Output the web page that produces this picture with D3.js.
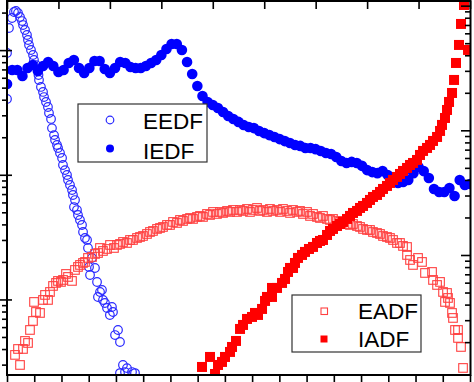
<!DOCTYPE html>
<html><head><meta charset="utf-8">
<script src="https://cdn.jsdelivr.net/npm/d3@7"></script>
<style>html,body{margin:0;padding:0;background:#fff;} svg{display:block;}</style>
</head><body><svg id="chart" width="474" height="382"></svg>
<script>
// ---- Data (top axis: energy; left axis: EDF; bottom axis: angle; right axis: ADF) ----
const eedfEnergy = [0,0,0.19,0.49,0.68,0.87,1.07,1.26,1.46,1.56,1.75,1.94,2.04,2.14,2.33,2.53,2.62,2.82,3.01,3.06,3.11,3.30,3.50,3.60,3.79,3.98,4.08,4.28,4.37,4.57,4.67,4.86,4.96,5.15,5.35,5.44,5.64,5.83,5.93,6.12,6.32,6.41,6.61,6.51,6.80,6.90,7.09,7.29,7.39,7.58,7.78,7.87,8.26,7.97,8.55,8.07,8.75,9.04,9.23,8.84,9.33,9.52,9.72,10.2,10.3,10.0,10.79,10.5,10.98,11.27,11.66,11.47,12.15,12.44,10.98];
const eedfValue = [0.409,0.957,1.518,1.826,2.04,2.078,2.002,1.86,1.727,1.604,1.463,1.334,1.216,1.109,1.011,0.922,0.841,0.766,0.699,0.637,0.581,0.511,0.466,0.424,0.387,0.353,0.316,0.283,0.239,0.210,0.192,0.175,0.1655,0.151,0.1376,0.1209,0.110,0.1005,0.0917,0.0836,0.0762,0.0695,0.0633,0.0556,0.0526,0.0480,0.0438,0.0399,0.0351,0.0314,0.0303,0.0261,0.0217,0.0184,0.01804,0.01585,0.01393,0.01158,0.01202,0.01056,0.00999,0.00945,0.00862,0.00878,0.0080,0.00757,0.00574,0.00523,0.0046,0.00301,0.00284,0.00264,0.00264,0.00259,0.00259];

const iedfEnergy = [0,0.5,1,1.5,2,2.5,3,3.5,4,4.5,5,5.5,6,6.5,7,7.5,8,8.5,9,9.5,10,10.5,11,11.5,12,12.5,13,13.5,14,14.5,15,15.5,16,16.5,17,17.5,18,18.5,19,19.5,20,20.5,21,21.5,22,22.5,23,23.5,24,24.5,25,25.5,26,26.5,27,27.5,28,28.5,29,29.5,30,30.5,31,31.5,32,32.5,33,33.5,34,34.5,35,35.5,36,36.5,37,37.5,38,38.5,39,39.5,40,40.5,41,41.5,42,42.5,43,43.5,44,44.5,45];
const iedfValue = [0.540,0.699,0.699,0.626,0.725,0.766,0.686,0.752,0.810,0.752,
 0.673,0.699,0.795,0.841,0.725,0.661,0.725,0.825,0.825,0.712,
 0.661,0.725,0.810,0.795,0.739,0.725,0.725,0.752,0.795,0.841,
 0.922,1.03,1.13,1.13,1.01,0.810,0.649,0.520,0.432,0.387,
 0.366,0.346,0.322,0.299,0.283,0.268,0.253,0.244,0.239,0.2265,
 0.218,0.210,0.203,0.195,0.188,0.1815,0.175,0.172,0.1655,0.1655,
 0.162,0.1565,0.151,0.148,0.140,0.130,0.1255,0.128,0.1255,0.119,
 0.110,0.106,0.104,0.108,0.1005,0.0934,0.0867,0.0883,0.0917,0.104,
 0.1165,0.108,0.0951,0.0776,0.0734,0.0734,0.0790,0.0682,0.0917,0.0836,
 0.0851];

const eadfAngle = [1.47,2.02,2.39,2.94,3.30,3.86,4.22,4.77,4.96,5.32,6.06,6.61,6.98,7.53,7.89,8.45,9.00,9.36,9.91,10.28,10.83,11.20,11.93,12.48,13.03,13.40,13.95,14.32,14.87,15.61,16.16,16.71,17.07,17.62,18.36,18.91,19.64,20.19,20.75,21.30,22.03,22.58,23.13,23.87,24.42,24.97,25.70,26.25,26.80,27.54,28.09,28.64,29.37,29.93,30.48,31.21,31.76,32.31,33.05,33.60,34.15,34.88,35.43,35.98,36.72,37.27,37.82,38.55,39.10,39.66,40.39,40.94,41.49,42.23,42.78,43.33,44.06,44.61,45.16,45.90,46.45,47.00,47.73,48.28,48.84,49.57,50.12,50.67,51.41,51.96,52.51,53.24,53.79,54.34,55.08,55.63,56.18,56.91,57.46,58.01,58.75,59.30,59.85,60.58,61.14,61.69,62.42,62.97,63.52,64.26,64.81,65.36,66.09,66.64,67.19,67.93,68.48,69.03,69.76,70.31,70.87,71.60,72.15,72.70,73.44,73.44,73.99,74.54,75.46,76.19,76.74,78.03,78.21,78.95,79.50,80.05,80.41,80.78,80.96,81.33,81.70,81.88,82.25,82.80,82.80,83.35,83.72];
const eadfValue = [1.594e-3,1.779e-3,1.324e-3,1.779e-3,2.063e-3,1.988e-3,2.527e-3,2.985e-3,4.240e-3,3.524e-3,
 3.460e-3,4.400e-3,4.826e-3,4.400e-3,5.099e-3,5.698e-3,6.023e-3,6.250e-3,6.136e-3,6.365e-3,
 7.111e-3,6.728e-3,6.250e-3,7.656e-3,8.093e-3,8.397e-3,8.713e-3,8.875e-3,9.557e-3,9.734e-3,
 1.029e-2,1.047e-2,1.149e-2,1.087e-2,1.128e-2,1.215e-2,1.149e-2,1.215e-2,1.238e-2,1.284e-2,
 1.260e-2,1.332e-2,1.332e-2,1.382e-2,1.408e-2,1.434e-2,1.488e-2,1.544e-2,1.573e-2,1.633e-2,
 1.663e-2,1.694e-2,1.758e-2,1.758e-2,1.858e-2,1.824e-2,1.928e-2,1.892e-2,1.964e-2,2.000e-2,
 1.964e-2,2.038e-2,2.076e-2,2.038e-2,2.154e-2,2.114e-2,2.235e-2,2.154e-2,2.235e-2,2.194e-2,
 2.277e-2,2.235e-2,2.319e-2,2.235e-2,2.319e-2,2.277e-2,2.362e-2,2.235e-2,2.319e-2,2.406e-2,
 2.277e-2,2.319e-2,2.235e-2,2.362e-2,2.277e-2,2.319e-2,2.235e-2,2.362e-2,2.277e-2,2.194e-2,
 2.319e-2,2.235e-2,2.277e-2,2.154e-2,2.235e-2,2.076e-2,2.154e-2,2.038e-2,2.000e-2,2.076e-2,
 1.964e-2,1.928e-2,1.964e-2,1.892e-2,1.858e-2,1.892e-2,1.789e-2,1.758e-2,1.789e-2,1.725e-2,
 1.694e-2,1.633e-2,1.603e-2,1.603e-2,1.544e-2,1.516e-2,1.488e-2,1.434e-2,1.408e-2,1.382e-2,
 1.332e-2,1.260e-2,1.260e-2,1.193e-2,1.170e-2,1.010e-2,9.209e-3,8.397e-3,9.557e-3,8.875e-3,
 7.243e-3,7.378e-3,6.365e-3,5.803e-3,6.136e-3,5.099e-3,4.240e-3,5.006e-3,4.564e-3,4.162e-3,
 3.460e-3,3.155e-3,2.527e-3,2.527e-3,2.181e-3,1.846e-3,1.253e-3];

const iadfAngle = [35.80,37.27,38.19,38.74,39.47,40.02,40.94,41.31,42.04,42.78,43.33,44.06,44.98,45.53,46.08,46.82,47.37,47.73,48.65,48.65,49.57,50.49,51.04,51.59,51.96,52.51,52.87,53.42,54.16,54.71,55.44,56.18,56.91,57.46,58.01,58.75,59.30,59.85,60.58,61.14,61.69,62.42,62.97,63.52,64.26,64.81,65.36,66.09,66.64,67.19,67.93,68.48,69.03,69.76,70.31,70.87,71.60,72.15,72.70,73.44,73.99,74.54,75.27,75.82,76.38,77.11,77.66,78.21,78.95,79.50,79.86,80.41,80.78,81.15,81.70,82.07,82.43,82.98,83.35,83.90,84.64];
const iadfValue = [1.276e-3,1.535e-3,1.121e-3,1.324e-3,1.400e-3,1.535e-3,1.684e-3,1.846e-3,2.063e-3,2.575e-3,
 2.772e-3,3.097e-3,3.214e-3,3.460e-3,3.335e-3,3.726e-3,4.320e-3,4.650e-3,4.650e-3,5.491e-3,
 5.491e-3,6.023e-3,6.483e-3,7.378e-3,7.943e-3,7.943e-3,8.713e-3,9.557e-3,1.010e-2,1.068e-2,
 1.128e-2,1.171e-2,1.260e-2,1.308e-2,1.332e-2,1.461e-2,1.573e-2,1.633e-2,1.725e-2,1.789e-2,
 1.858e-2,1.964e-2,2.076e-2,2.194e-2,2.277e-2,2.406e-2,2.497e-2,2.639e-2,2.790e-2,2.948e-2,
 3.059e-2,3.234e-2,3.418e-2,3.613e-2,3.818e-2,4.036e-2,4.266e-2,4.508e-2,4.765e-2,5.037e-2,
 5.323e-2,5.524e-2,5.838e-2,6.403e-2,6.896e-2,7.289e-2,7.703e-2,8.293e-2,8.929e-2,9.977e-2,
 0.1115,0.1268,0.1470,0.1704,0.2012,0.2559,0.3502,0.4885,0.7199,1.022,
 0.4454];

const topTicks = [0,5,10,15,20,25,30,35,40,45];
const bottomTicks = [0,5,10,15,20,25,30,35,40,45,50,55,60,65,70,75,80,85];
const leftMajor = [0.01,0.1,1];
const rightMajor = [0.01,0.1,1];
const legendTop = ["EEDF","IEDF"];
const legendBottom = ["EADF","IADF"];

// ---- Layout ----
const plot = {left:7, right:470, top:1, bottom:375};
const xTop = d3.scaleLinear().domain([0,45]).range([plot.left, plot.right]);
const xBottom = d3.scaleLinear().domain([0,85]).range([plot.left, plot.right]);
const yLeft = d3.scaleLog().domain([0.0025,2.5]).range([plot.bottom, plot.top]);
const yRight = d3.scaleLog().domain([0.0011,1.1]).range([plot.bottom, plot.top]);

const svg = d3.select("#chart");
svg.append("rect").attr("width",474).attr("height",382).attr("fill","#fff");
svg.append("defs").append("clipPath").attr("id","clip").append("rect")
  .attr("x",plot.left).attr("y",plot.top).attr("width",plot.right-plot.left+1).attr("height",plot.bottom-plot.top);

const marks = svg.append("g").attr("clip-path","url(#clip)");
const BLUE = "#0000ff", BLUE_O = "#2a2aff", RED = "#ff0000", RED_O = "#ff4040";

marks.append("g").selectAll("circle").data(d3.zip(eedfEnergy, eedfValue)).join("circle")
  .attr("cx", d=>xTop(d[0])).attr("cy", d=>yLeft(d[1])).attr("r",4.3)
  .attr("fill","none").attr("stroke",BLUE_O).attr("stroke-width",1.2);
marks.append("g").selectAll("circle").data(d3.zip(iedfEnergy, iedfValue)).join("circle")
  .attr("cx", d=>xTop(d[0])).attr("cy", d=>yLeft(d[1])).attr("r",5.3)
  .attr("fill",BLUE);
marks.append("g").selectAll("rect").data(d3.zip(eadfAngle, eadfValue)).join("rect")
  .attr("x", d=>xBottom(d[0])-4.3).attr("y", d=>yRight(d[1])-4.3).attr("width",8.6).attr("height",8.6)
  .attr("fill","none").attr("stroke",RED_O).attr("stroke-width",1.1);
marks.append("g").selectAll("rect").data(d3.zip(iadfAngle, iadfValue)).join("rect")
  .attr("x", d=>xBottom(d[0])-5).attr("y", d=>yRight(d[1])-5).attr("width",10).attr("height",10)
  .attr("fill",RED);

// ---- Axes ----
svg.append("rect").attr("x",plot.left).attr("y",plot.top).attr("width",plot.right-plot.left+0.5)
  .attr("height",plot.bottom-plot.top).attr("fill","none").attr("stroke","#000").attr("stroke-width",2);

const topAxis = svg.append("g").attr("transform",`translate(0,${plot.top})`)
  .call(d3.axisTop(xTop).tickValues(topTicks).tickSize(-8).tickFormat(""));
const bottomAxis = svg.append("g").attr("transform",`translate(0,${plot.bottom})`)
  .call(d3.axisBottom(xBottom).tickValues(bottomTicks).tickSize(7).tickFormat(""));
[topAxis,bottomAxis].forEach(a=>{a.select(".domain").remove(); a.selectAll("line").attr("stroke","#000").attr("stroke-width",1.6);});

const leftMinor = yLeft.ticks().filter(v=>!leftMajor.some(m=>Math.abs(m-v)/m<1e-6));
const rightMinor = yRight.ticks().filter(v=>!rightMajor.some(m=>Math.abs(m-v)/m<1e-6));
const leftG = svg.append("g").attr("stroke","#000").attr("stroke-width",1.6);
leftG.selectAll("line.maj").data(leftMajor).join("line").attr("class","maj")
  .attr("x1",0).attr("x2",plot.left+5).attr("y1",d=>yLeft(d)).attr("y2",d=>yLeft(d));
leftG.selectAll("line.min").data(leftMinor).join("line").attr("class","min")
  .attr("x1",2).attr("x2",plot.left).attr("y1",d=>yLeft(d)).attr("y2",d=>yLeft(d));
const rightG = svg.append("g").attr("stroke","#000").attr("stroke-width",1.6);
rightG.selectAll("line.maj").data(rightMajor).join("line").attr("class","maj")
  .attr("x1",plot.right-9).attr("x2",plot.right).attr("y1",d=>yRight(d)).attr("y2",d=>yRight(d));
rightG.selectAll("line.min").data(rightMinor).join("line").attr("class","min")
  .attr("x1",plot.right-5).attr("x2",plot.right).attr("y1",d=>yRight(d)).attr("y2",d=>yRight(d));

// ---- Legends ----
const FONT = "'Liberation Sans', Arial, sans-serif";
const lg1 = svg.append("g");
lg1.append("rect").attr("x",78).attr("y",104).attr("width",129).attr("height",58)
  .attr("fill","#fff").attr("stroke","#333").attr("stroke-width",1.2);
lg1.append("circle").attr("cx",110).attr("cy",120).attr("r",3.8).attr("fill","none").attr("stroke",BLUE_O).attr("stroke-width",1.2);
lg1.append("circle").attr("cx",110).attr("cy",148.5).attr("r",4).attr("fill",BLUE);
lg1.selectAll("text").data(legendTop).join("text")
  .attr("x",143).attr("y",(d,i)=>128.5+i*30).text(d=>d)
  .attr("font-family",FONT).attr("font-size",22.5).attr("fill","#000");

const lg2 = svg.append("g");
lg2.append("rect").attr("x",292).attr("y",295).attr("width",129).attr("height",57)
  .attr("fill","#fff").attr("stroke","#333").attr("stroke-width",1.2);
lg2.append("rect").attr("x",321).attr("y",308).attr("width",6.5).attr("height",6.5).attr("fill","none").attr("stroke",RED_O).attr("stroke-width",1.1);
lg2.append("rect").attr("x",320.5).attr("y",335.5).attr("width",7).attr("height",7).attr("fill",RED);
lg2.selectAll("text").data(legendBottom).join("text")
  .attr("x",358).attr("y",(d,i)=>319+i*28).text(d=>d)
  .attr("font-family",FONT).attr("font-size",22.5).attr("fill","#000");
</script>
</body></html>
